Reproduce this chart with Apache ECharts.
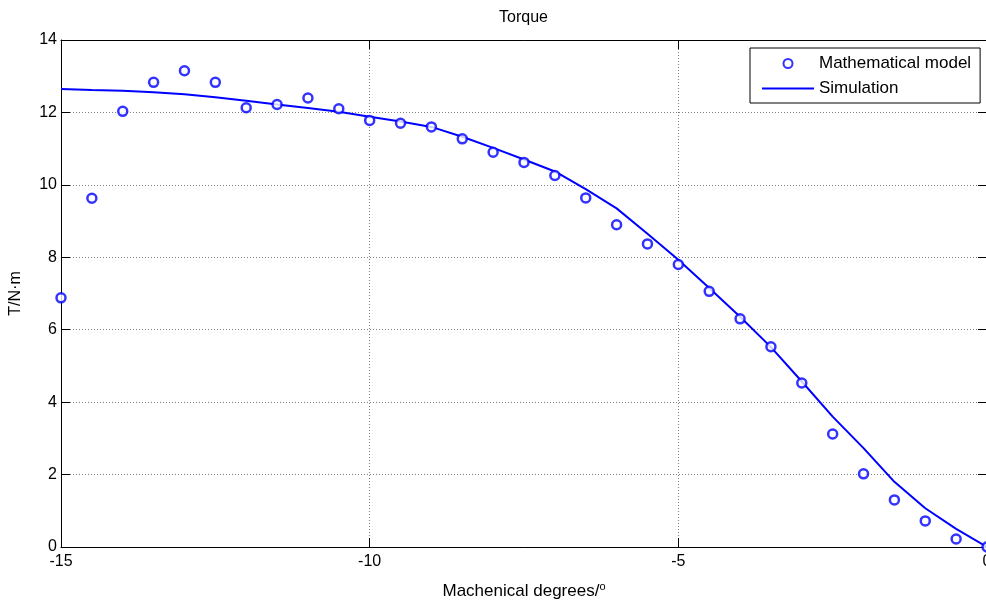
<!DOCTYPE html>
<html>
<head>
<meta charset="utf-8">
<style>
html, body { margin: 0; padding: 0; background: #fff; overflow: hidden; }
#chart { width: 986px; height: 601px; }
</style>
<script src="https://cdn.jsdelivr.net/npm/echarts@6/dist/echarts.min.js"></script>
</head>
<body>
<div id="chart"></div>
<script>
// mechanical angle, degrees
const angles = [-15, -14.5, -14, -13.5, -13, -12.5, -12, -11.5, -11, -10.5, -10,
  -9.5, -9, -8.5, -8, -7.5, -7, -6.5, -6, -5.5, -5,
  -4.5, -4, -3.5, -3, -2.5, -2, -1.5, -1, -0.5, 0];

// torque from the mathematical model (circles)
const modelTorque = [6.88, 9.63, 12.03, 12.83, 13.15, 12.83, 12.13, 12.22, 12.4, 12.1, 11.78,
  11.7, 11.6, 11.27, 10.9, 10.62, 10.26, 9.64, 8.9, 8.37, 7.8,
  7.06, 6.3, 5.53, 4.53, 3.12, 2.02, 1.3, 0.72, 0.22, 0];

// torque from the simulation (line)
const simTorque = [12.65, 12.62, 12.6, 12.56, 12.5, 12.42, 12.32, 12.22, 12.12, 12.02, 11.88,
  11.75, 11.6, 11.33, 11.02, 10.7, 10.37, 9.88, 9.35, 8.65, 7.93,
  7.15, 6.36, 5.52, 4.57, 3.6, 2.73, 1.8, 1.07, 0.5, 0];

const font = 'Liberation Sans, Arial, sans-serif';
const zip = (xs, ys) => xs.map((x, i) => [x, ys[i]]);

const chart = echarts.init(document.getElementById('chart'), null, { renderer: 'canvas', width: 986, height: 601 });

const gridLine = { show: true, lineStyle: { color: '#808080', type: [1, 2], width: 1 } };
const boxTick = { show: true, inside: true, length: 9, lineStyle: { color: '#000' } };
const boxLine = { show: true, onZero: false, lineStyle: { color: '#000', width: 1 } };

chart.setOption({
  animation: false,
  backgroundColor: '#fff',
  textStyle: { fontFamily: font },
  title: {
    text: 'Torque',
    left: 499, top: 10, padding: 0,
    textStyle: { fontFamily: font, fontSize: 16, fontWeight: 'normal', color: '#000' }
  },
  // no auto-shrinking, the right edge and last label are cut off like the original
  grid: { left: 61, top: 40, width: 926, height: 507, containLabel: false, outerBoundsMode: 'none' },
  legend: {
    left: 750, top: 48, orient: 'vertical', align: 'left',
    backgroundColor: '#fff', borderColor: '#000', borderWidth: 1, borderRadius: 0,
    padding: [6, 9, 5, 11], itemGap: 6, itemWidth: 52, itemHeight: 9,
    textStyle: { fontFamily: font, fontSize: 17, lineHeight: 19, color: '#000' },
    data: [
      { name: 'Mathematical model', icon: 'circle' },
      { name: 'Simulation', itemStyle: { opacity: 0 }, lineStyle: { color: '#0000ff', width: 2, opacity: 1 } }
    ]
  },
  xAxis: [{
    type: 'value', min: -15, max: 0, interval: 5,
    name: 'Machenical degrees/{sup|o}', nameLocation: 'middle', nameGap: 34,
    nameTextStyle: {
      fontFamily: font, fontSize: 17, color: '#000',
      rich: { sup: { fontFamily: font, fontSize: 11, color: '#000', verticalAlign: 'top', padding: [0, 0, 9, 0] } }
    },
    axisLine: boxLine,
    axisTick: boxTick,
    axisLabel: { color: '#000', fontFamily: font, fontSize: 16, margin: 7, hideOverlap: false },
    splitLine: gridLine
  }, {
    type: 'value', min: -15, max: 0, interval: 5, position: 'top',
    axisLine: boxLine,
    axisTick: boxTick,
    axisLabel: { show: false }, splitLine: { show: false }
  }],
  yAxis: [{
    type: 'value', min: 0, max: 14, interval: 2,
    name: 'T/N·m', nameLocation: 'middle', nameGap: 37,
    nameTextStyle: { fontFamily: font, fontSize: 16, color: '#000' },
    axisLine: boxLine,
    axisTick: boxTick,
    axisLabel: { color: '#000', fontFamily: font, fontSize: 16, margin: 4 },
    splitLine: gridLine
  }, {
    type: 'value', min: 0, max: 14, interval: 2, position: 'right',
    axisLine: boxLine,
    axisTick: boxTick,
    axisLabel: { show: false }, splitLine: { show: false }
  }],
  series: [{
    name: 'Mathematical model',
    type: 'scatter',
    data: zip(angles, modelTorque),
    symbol: 'circle', symbolSize: 9,
    itemStyle: { color: '#fff', borderColor: '#0000ff', borderWidth: 2.5 },
    z: 3
  }, {
    name: 'Simulation',
    type: 'line',
    data: zip(angles, simTorque),
    symbol: 'none', smooth: false,
    lineStyle: { color: '#0000ff', width: 2 },
    itemStyle: { color: '#0000ff' },
    z: 2
  }]
});
</script>
</body>
</html>
